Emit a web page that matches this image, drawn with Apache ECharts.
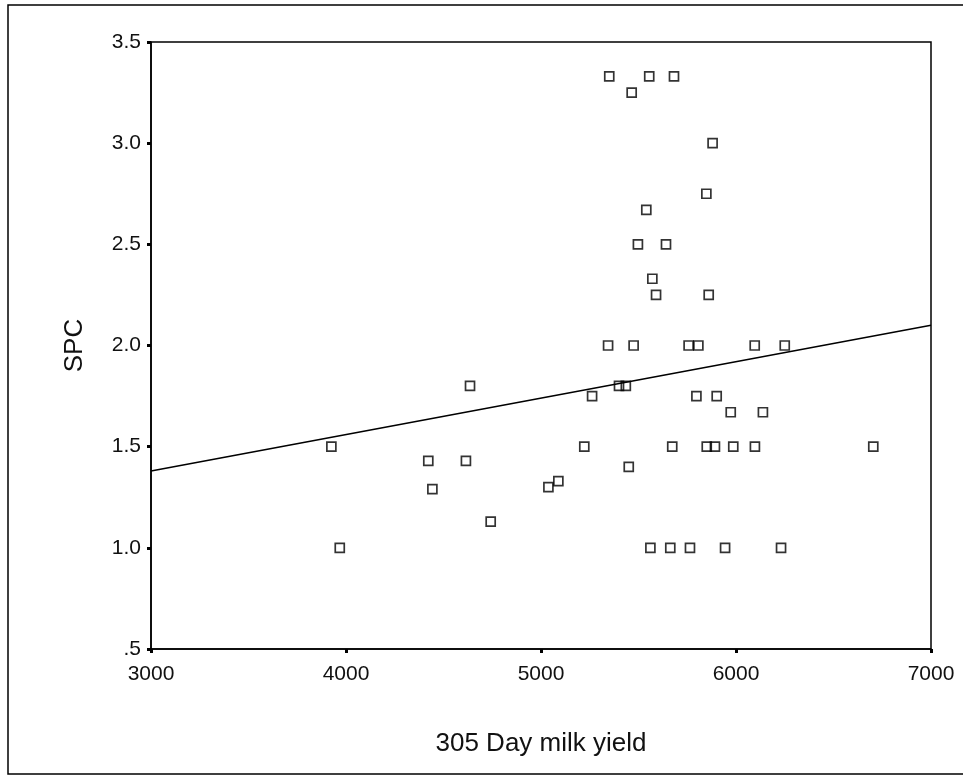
<!DOCTYPE html>
<html>
<head>
<meta charset="utf-8">
<script src="https://cdn.jsdelivr.net/npm/echarts@6/dist/echarts.min.js"></script>
<style>
  html, body { margin: 0; padding: 0; background: #fff; }
  #chart { width: 963px; height: 778px; }
</style>
</head>
<body>
<div id="chart"></div>
<script>
// 305 day milk yield (x) against SPC (y)
var milkYield = [
  3925, 3968, 4422, 4443, 4615, 4636, 4742, 5038, 5089, 5222,
  5262, 5344, 5350, 5400, 5435, 5450, 5465, 5475, 5497, 5540,
  5555, 5561, 5571, 5590, 5641, 5663, 5673, 5682, 5757, 5764,
  5797, 5807, 5848, 5850, 5860, 5880, 5892, 5901, 5944, 5973,
  5986, 6096, 6097, 6138, 6231, 6250, 6704
];
var spc = [
  1.5, 1.0, 1.43, 1.29, 1.43, 1.8, 1.13, 1.3, 1.33, 1.5,
  1.75, 2.0, 3.33, 1.8, 1.8, 1.4, 3.25, 2.0, 2.5, 2.67,
  3.33, 1.0, 2.33, 2.25, 2.5, 1.0, 1.5, 3.33, 2.0, 1.0,
  1.75, 2.0, 2.75, 1.5, 2.25, 3.0, 1.5, 1.75, 1.0, 1.67,
  1.5, 2.0, 1.5, 1.67, 1.0, 2.0, 1.5
];

// fitted regression line end points
var fitX = [3000, 7000];
var fitY = [1.38, 2.10];

var xTicks = [3000, 4000, 5000, 6000, 7000];
var yTicks = [0.5, 1.0, 1.5, 2.0, 2.5, 3.0, 3.5];

var points = [];
for (var i = 0; i < milkYield.length; i++) {
    points.push([milkYield[i], spc[i]]);
}
var fitLine = [];
for (var j = 0; j < fitX.length; j++) {
    fitLine.push([fitX[j], fitY[j]]);
}

var font = 'Liberation Sans, Arial, sans-serif';

var myChart = echarts.init(document.getElementById('chart'));

var option = {
    backgroundColor: '#fff',
    animation: false,
    grid: {
        left: 151,
        top: 42,
        right: 32,
        bottom: 129,
        show: true,
        borderColor: '#000',
        borderWidth: 1.5,
        backgroundColor: 'transparent'
    },
    graphic: [{
        type: 'polyline',
        shape: { points: [[963, 5], [8, 5], [8, 774], [963, 774]] },
        style: { stroke: '#000', lineWidth: 1.5, fill: null }
    }],
    xAxis: {
        type: 'value',
        min: xTicks[0],
        max: xTicks[xTicks.length - 1],
        interval: 1000,
        name: '305 Day milk yield',
        nameLocation: 'middle',
        nameGap: 82,
        nameTextStyle: { fontFamily: font, fontSize: 26, color: '#111' },
        axisLine: { lineStyle: { color: '#000', width: 1.5 } },
        axisTick: { show: true, length: 4, lineStyle: { color: '#000', width: 3 } },
        axisLabel: {
            fontFamily: font, fontSize: 21, color: '#111', margin: 15,
            formatter: function (v) { return String(v); }
        },
        splitLine: { show: false }
    },
    yAxis: {
        type: 'value',
        min: yTicks[0],
        max: yTicks[yTicks.length - 1],
        interval: 0.5,
        name: 'SPC',
        nameLocation: 'middle',
        nameGap: 63,
        nameTextStyle: { fontFamily: font, fontSize: 26, color: '#111' },
        axisLine: { lineStyle: { color: '#000', width: 1.5 } },
        axisTick: { show: true, length: 4, lineStyle: { color: '#000', width: 3 } },
        axisLabel: {
            fontFamily: font, fontSize: 21, color: '#111', margin: 10,
            formatter: function (v) {
                var s = v.toFixed(1);
                return s.charAt(0) === '0' ? s.substring(1) : s;
            }
        },
        splitLine: { show: false }
    },
    series: [{
        name: 'Fit',
        type: 'line',
        data: fitLine,
        symbol: 'none',
        lineStyle: { color: '#000', width: 1.5 },
        z: 2
    }, {
        name: 'SPC',
        type: 'scatter',
        data: points,
        symbol: 'rect',
        symbolSize: 9,
        itemStyle: { color: 'rgba(0,0,0,0)', borderColor: '#000', borderWidth: 1.7 },
        z: 3
    }]
};

myChart.setOption(option);
</script>
</body>
</html>
